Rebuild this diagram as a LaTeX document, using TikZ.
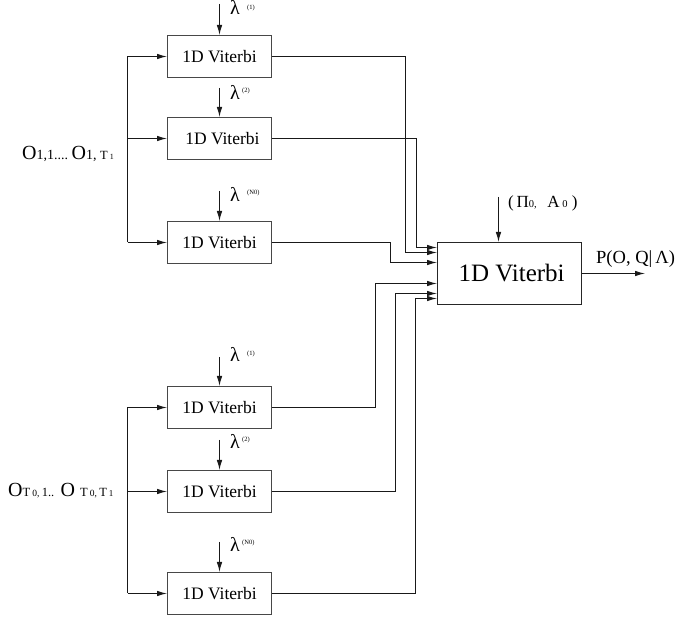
\documentclass[tikz,border=0pt]{standalone}
\usepackage{fontspec}
\setmainfont{Liberation Serif}
\usetikzlibrary{arrows.meta}
\newcommand{\fs}[1]{\fontsize{#1}{#1}\selectfont}
\begin{document}
\begin{tikzpicture}[x=1pt,y=-1pt,
  vbox/.style={draw=black!72,line width=1pt,minimum width=104pt,minimum height=42pt,inner sep=0pt,font=\fs{17.5}},
  bigbox/.style={draw=black!85,line width=1pt,minimum width=144pt,minimum height=62pt,inner sep=0pt,font=\fs{25}},
  conn/.style={draw=black!90,line width=1pt},
  arr/.style={conn,-{Latex[length=10pt,width=5.5pt]}},
  lam/.style={anchor=base west,inner sep=0pt,font=\fs{20}},
  sup/.style={anchor=base west,inner sep=0pt,font=\fs{6.5}},
  lbl/.style={anchor=base west,inner sep=0pt}]
\useasboundingbox (0,0) rectangle (678,617);
% small boxes
\node[vbox] (b1) at (219.5,56.5) {1D Viterbi};
\node[vbox] (b2) at (219.5,138.5) {\,\,1D Viterbi};
\node[vbox] (b3) at (219.5,242.5) {1D Viterbi};
\node[vbox] (b4) at (219.5,407.5) {1D Viterbi};
\node[vbox] (b5) at (219.5,491.5) {1D Viterbi};
\node[vbox] (b6) at (219.5,593.5) {1D Viterbi};
% big box
\node[bigbox] (big) at (509.5,273.5) {\,1D Viterbi};
% lambda inputs
\coordinate (t1) at (219.5,4);
\coordinate (t2) at (219.5,88);
\coordinate (t3) at (219.5,191);
\coordinate (t4) at (219.5,357);
\coordinate (t5) at (219.5,440);
\coordinate (t6) at (219.5,542);
\foreach \i in {1,...,6}{\draw[arr] (t\i) -- (b\i.north);}
\node[lam] (l1) at (230,15) {λ};
\node[sup] (s1) at (247,10) {(1)};
\node[lam] (l2) at (230,100) {λ};
\node[sup] (s2) at (242,93) {(2)};
\node[lam] (l3) at (230,202) {λ};
\node[sup] (s3) at (247,195) {(N0)};
\node[lam] (l4) at (230,362) {λ};
\node[sup] (s4) at (247,356) {(1)};
\node[lam] (l5) at (230,449) {λ};
\node[sup] (s5) at (242,442) {(2)};
\node[lam] (l6) at (230,552) {λ};
\node[sup] (s6) at (242,545) {(N0)};
% left buses
\coordinate (bt) at (127.5,56.5);
\coordinate (bm) at (127.5,138.5);
\coordinate (bb) at (127.5,242.5);
\draw[conn] (bt) -- (bb);
\draw[arr] (bt) -- (b1.west);
\draw[arr] (bm) -- (b2.west);
\draw[arr] (bb) -- (b3.west);
\coordinate (ct) at (127.5,407.5);
\coordinate (cm) at (127.5,491.5);
\coordinate (cb) at (127.5,593.5);
\draw[conn] (ct) -- (cb);
\draw[arr] (ct) -- (b4.west);
\draw[arr] (cm) -- (b5.west);
\draw[arr] (cb) -- (b6.west);
% left labels
\node[lbl] (o1) at (22,160) {\fs{20}O\fs{14}1,1....\ \fs{20}O\fs{14}1,\ \fs{12.5}T\,\fs{8}1};
\node[lbl] (o2) at (8,497) {\fs{20}O\fs{12.5}T\,\fs{9.5}0,\ \fs{12.5}1..\ \ \fs{20}O\ \fs{12.5}T\,\fs{9.5}0,\ \fs{12.5}T\,\fs{9}1};
% inputs to big box
\coordinate (i1) at (big.west |- 0,247.5);
\coordinate (i2) at (big.west |- 0,252.5);
\coordinate (i3) at (big.west |- 0,262.5);
\coordinate (i4) at (big.west |- 0,283.5);
\coordinate (i5) at (big.west |- 0,293.5);
\coordinate (i6) at (big.west |- 0,298.5);
\draw[arr] (b1.east) -| (405.5,252.5) -- (i2);
\draw[arr] (b2.east) -| (416.5,247.5) -- (i1);
\draw[arr] (b3.east) -| (390.5,262.5) -- (i3);
\draw[arr] (b4.east) -| (375.5,283.5) -- (i4);
\draw[arr] (b5.east) -| (395.5,293.5) -- (i5);
\draw[arr] (b6.east) -| (415.5,298.5) -- (i6);
% top input and output of big box
\coordinate (pt) at (498.5,197);
\draw[arr] (pt) -- (pt |- big.north);
\node[lbl] (pl) at (508,208) {\fs{17}(\,Π\fs{10.5}0,\ \ \ \ \fs{17}A\,\fs{10.5}0\fs{17}\ )};
\coordinate (out) at (645,273.5);
\draw[arr] (big.east) -- (out);
\node[lbl] (po) at (596,264) {\fs{18.5}P(O, Q|\,Λ)};
\end{tikzpicture}
\end{document}
